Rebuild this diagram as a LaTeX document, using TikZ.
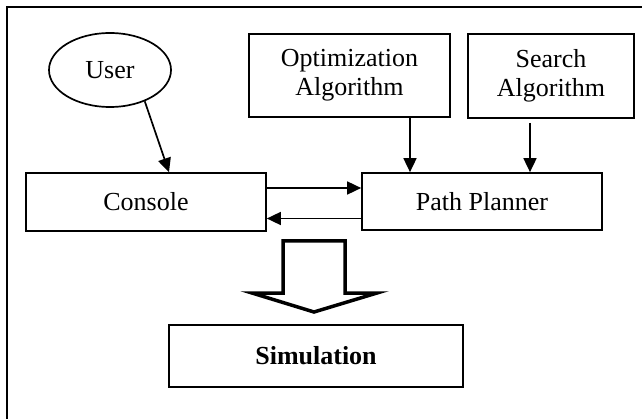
\documentclass[tikz,border=0pt]{standalone}
\usepackage{fontspec}
\setmainfont{Liberation Serif}
\usetikzlibrary{shapes.geometric,arrows.meta}

\tikzset{
  block/.style={draw,line width=1.7pt,rectangle,inner sep=0pt,align=center},
  arr/.style={line width=1.7pt,-{Triangle[length=14pt,width=13pt]}}
}

\begin{document}
\begin{tikzpicture}[x=1pt,y=1pt,font=\fontsize{26}{29}\selectfont]
\useasboundingbox (0,0) rectangle (642,418);
% frame
\draw[line width=2.2pt] (7,-5) -- (7,411) -- (650,411);

\node[draw,line width=1.7pt,ellipse,inner sep=0pt,minimum width=122pt,minimum height=74pt] (user) at (110,348) {User};
\node[block,minimum width=201pt,minimum height=83pt] (opt) at (349.5,342.5) {Optimization\\Algorithm};
\node[block,minimum width=166pt,minimum height=84pt] (search) at (551,342) {Search\\Algorithm};
\node[block,minimum width=240pt,minimum height=58pt] (console) at (146,216) {Console};
\node[block,minimum width=240pt,minimum height=57pt] (path) at (482,216.5) {Path Planner};
\node[block,minimum width=294pt,minimum height=62pt] (sim) at (316,62) {\textbf{Simulation}};

\draw[arr] (user.-42) -- ([xshift=23pt]console.north);
\draw[arr] ([xshift=60.5pt]opt.south) -- ([xshift=60.5pt]opt.south |- path.north);
\draw[arr] ([xshift=-21pt,yshift=-4pt]search.south) -- ([xshift=-21pt]search.south |- path.north);
\draw[arr] ([yshift=14pt]console.east) -- ([yshift=14pt]console.east -| path.west);
\draw[arr] ([yshift=-17pt]path.west) -- ([yshift=-17pt]path.west -| console.east);

% hollow arrow
\draw[line width=3.5pt,miter limit=20] (283,177) -- (345,177) -- (345,125) -- (377,125)
  -- (314,106) -- (252,125) -- (283,125) -- cycle;
\end{tikzpicture}
\end{document}
